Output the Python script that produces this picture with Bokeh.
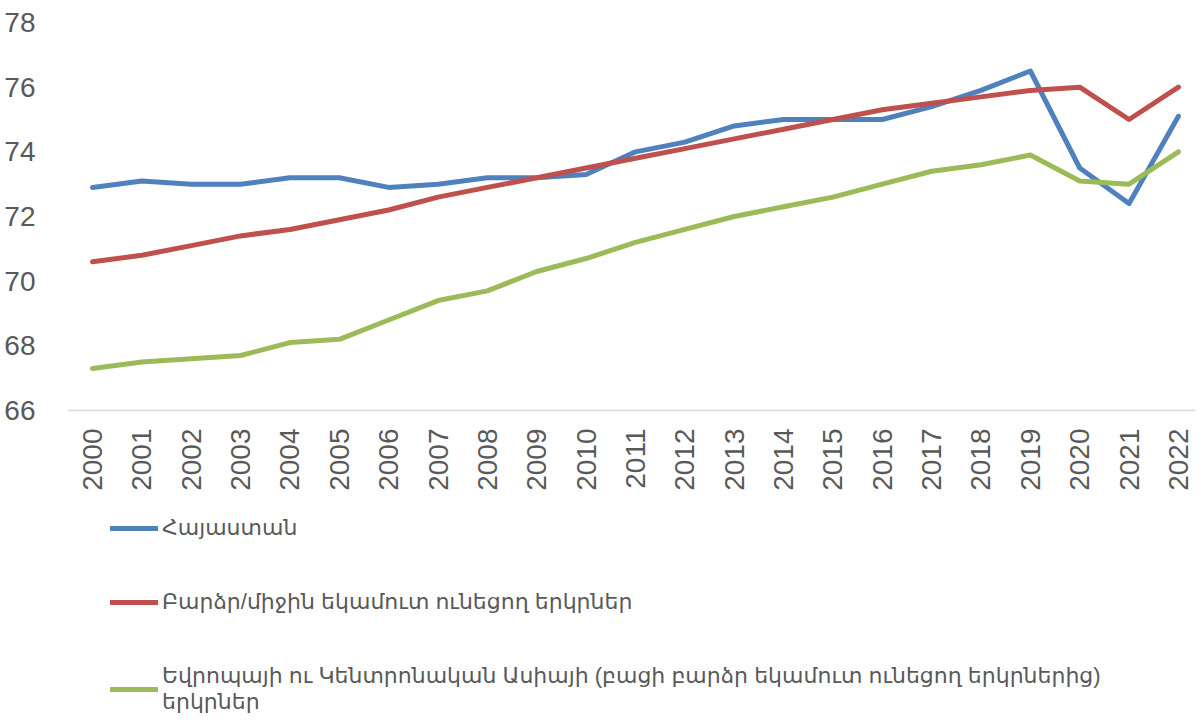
from bokeh.plotting import figure
from bokeh.models import Range1d, FixedTicker, Legend, LegendItem
from bokeh.embed import file_html
from bokeh.resources import INLINE

years = list(range(2000, 2023))
armenia = [72.9, 73.1, 73.0, 73.0, 73.2, 73.2, 72.9, 73.0, 73.2, 73.2, 73.3, 74.0,
           74.3, 74.8, 75.0, 75.0, 75.0, 75.4, 75.9, 76.5, 73.5, 72.4, 75.1]
upper_middle = [70.6, 70.8, 71.1, 71.4, 71.6, 71.9, 72.2, 72.6, 72.9, 73.2, 73.5, 73.8,
                74.1, 74.4, 74.7, 75.0, 75.3, 75.5, 75.7, 75.9, 76.0, 75.0, 76.0]
europe_ca = [67.3, 67.5, 67.6, 67.7, 68.1, 68.2, 68.8, 69.4, 69.7, 70.3, 70.7, 71.2,
             71.6, 72.0, 72.3, 72.6, 73.0, 73.4, 73.6, 73.9, 73.1, 73.0, 74.0]
y_ticks = [66, 68, 70, 72, 74, 76, 78]
labels = ["Հայաստան",
          "Բարձր/միջին եկամուտ ունեցող երկրներ",
          "Եվրոպայի ու Կենտրոնական Ասիայի (բացի բարձր եկամուտ ունեցող երկրներից)\nերկրներ"]
colors = ["#4F81BD", "#C0504D", "#9BBB59"]
series = [armenia, upper_middle, europe_ca]

FONT = "Liberation Sans, DejaVu Sans"
GRAY = "#595959"

# the frame extends below the value axis to host the legend; 12 units span 388 px
Y_MIN, Y_MAX = y_ticks[0], y_ticks[-1]
px_per_unit = 388 / (Y_MAX - Y_MIN)
frame_h = 698

p = figure(frame_width=1128, frame_height=frame_h, output_backend="svg", toolbar_location=None,
           x_range=Range1d(1999.4935, 2022.346),
           y_range=Range1d(Y_MAX - frame_h / px_per_unit, Y_MAX),
           min_border_left=67, min_border_top=22, min_border_right=0,
           min_border_bottom=0)
p.outline_line_color = None
p.xgrid.visible = False
p.ygrid.visible = False

renderers = []
for ys, c in zip(series, colors):
    r = p.line(years, ys, line_color=c, line_width=5, line_join="round", line_cap="round")
    renderers.append(r)

p.xaxis.fixed_location = Y_MIN
p.xaxis.ticker = FixedTicker(ticks=years)
p.xaxis.major_label_orientation = 3.14159265 / 2
p.xaxis.axis_line_color = "#D9D9D9"
p.xaxis.axis_line_width = 1.5
p.xaxis.major_tick_line_color = None
p.xaxis.minor_tick_line_color = None
p.xaxis.major_label_text_font = FONT
p.xaxis.major_label_text_font_size = "28px"
p.xaxis.major_label_text_color = GRAY
p.xaxis.major_label_standoff = 12

p.yaxis.ticker = FixedTicker(ticks=y_ticks)
p.yaxis.axis_line_color = None
p.yaxis.major_tick_line_color = None
p.yaxis.minor_tick_line_color = None
p.yaxis.major_label_text_font = FONT
p.yaxis.major_label_text_font_size = "28px"
p.yaxis.major_label_text_color = GRAY
p.yaxis.major_label_standoff = 26

items = [LegendItem(label=l, renderers=[r]) for l, r in zip(labels, renderers)]
legend = Legend(items=items, orientation="vertical", location=(43, 5),
                label_text_font=FONT, label_text_font_size="22px",
                label_text_color=GRAY, glyph_width=48, glyph_height=26,
                label_standoff=4, spacing=48, padding=0, margin=0,
                border_line_color=None, background_fill_alpha=0)
p.add_layout(legend, "center")

open("out.html", "w").write(file_html(p, INLINE))
